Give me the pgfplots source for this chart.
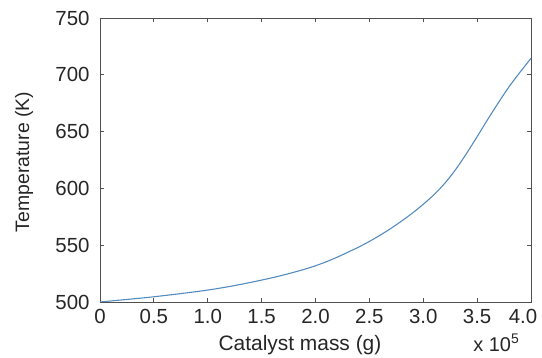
\documentclass[border=0pt]{standalone}
\usepackage{fontspec}
\setmainfont{Liberation Sans}
\usepackage{pgfplots}
\pgfplotsset{compat=1.18}
\definecolor{curve}{RGB}{85,140,192}
\definecolor{axgray}{RGB}{80,80,80}
\begin{document}
\begin{tikzpicture}
\begin{axis}[
  scale only axis, width=431bp, height=284bp,
  xmin=0, xmax=4, ymin=500, ymax=750,
  xtick={0,0.5,1,1.5,2,2.5,3,3.5,4},
  xticklabels={0,0.5,1.0,1.5,2.0,2.5,3.0,3.5,{\hspace*{-16bp}4.0}},
  ytick={500,550,600,650,700,750},
  yticklabels={500,550,600,650,700,750},
  tick align=inside, major tick length=4bp,
  xtick pos=both, ytick pos=both,
  axis line style={axgray, line width=0.9bp},
  tick style={axgray, line width=0.8bp},
  ticklabel style={font=\fontsize{20.5}{22}\selectfont, text=black!85},
  xticklabel style={yshift=-4bp},
  yticklabel style={xshift=-7bp},
  xlabel={Catalyst mass (g)}, ylabel={Temperature (K)},
  xlabel style={at={(axis description cs:0.464,-0.171)}, anchor=base, font=\fontsize{21}{23}\selectfont, text=black!85},
  ylabel style={at={(axis description cs:-0.176,0.493)}, anchor=center, font=\fontsize{19.5}{21}\selectfont, text=black!85},
  clip mode=individual,
]
\addplot[curve, line width=1.1bp, smooth] coordinates {
(0,500) (0.1,500.9) (0.2,501.8) (0.3,502.7) (0.4,503.6) (0.5,504.6)
(0.6,505.7) (0.7,506.8) (0.8,508.0) (0.9,509.2) (1.0,510.5)
(1.1,512.0) (1.2,513.6) (1.3,515.4) (1.4,517.3) (1.5,519.3)
(1.6,521.4) (1.7,523.7) (1.8,526.2) (1.9,528.9) (2.0,531.9)
(2.1,535.4) (2.2,539.4) (2.3,543.8) (2.4,548.3) (2.5,553.3)
(2.6,558.8) (2.7,564.8) (2.8,571.3) (2.9,578.3) (3.0,586)
(3.1,594.5) (3.2,604.5) (3.3,616.5) (3.4,630.5) (3.5,645.5)
(3.6,661) (3.7,675.8) (3.8,690) (3.9,702.5) (4.0,714.5)
};
\coordinate (sw) at (rel axis cs:0,0);
\node[anchor=base east, font=\fontsize{20}{22}\selectfont, text=black!85] at (axis description cs:0.981,-0.173) {x 10\textsuperscript{5}};
\end{axis}
\pgfresetboundingbox
\useasboundingbox ([shift={(-100bp,-56bp)}]sw) rectangle ([shift={(442bp,302bp)}]sw);
\end{tikzpicture}
\end{document}
